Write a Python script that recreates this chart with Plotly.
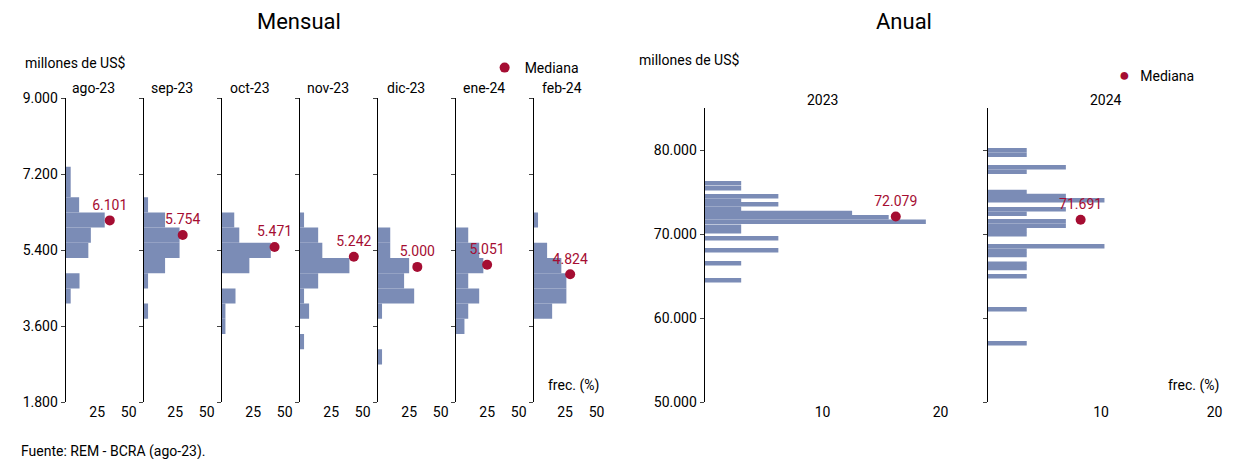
import plotly.graph_objects as go

# monthly histograms: bin centres (millones de US$) and frequency (%)
months = ['ago-23', 'sep-23', 'oct-23', 'nov-23', 'dic-23', 'ene-24', 'feb-24']
m_bins = [7190, 6830, 6470, 6110, 5750, 5390, 5030, 4670, 4310, 3950, 3590, 3230, 2870]
m_freq = [
    [4, 4, 10.7, 31, 20, 18, 0, 11, 4, 0, 0, 0, 0],
    [0, 0, 3.5, 17, 28.5, 28.5, 17, 3.5, 0, 3.5, 0, 0, 0],
    [0, 0, 0, 10, 14, 39, 22, 0, 11, 3, 3, 0, 0],
    [0, 0, 0, 3.5, 14.7, 18, 39.5, 14.7, 3.5, 7.5, 0, 3.5, 0],
    [0, 0, 0, 0, 10, 10, 25, 21, 29, 3.5, 0, 0, 3.5],
    [0, 0, 0, 0, 10, 18.7, 22, 10, 18.7, 10, 7, 0, 0],
    [0, 0, 0, 3.5, 0, 10.7, 22, 26, 26, 14.7, 0, 0, 0],
]
m_median = [6101, 5754, 5471, 5242, 5000, 5051, 4824]
m_median_x = [35, 31, 42, 43, 31.5, 25, 29]

# annual histograms
years = ['2023', '2024']
a23_bins = [76032, 75437, 74484, 73968, 73532, 73016, 72500, 71984, 71468, 70873, 70317, 69484, 68056, 66508, 64484]
a23_freq = [3.1, 3.1, 6.25, 3.1, 6.25, 3.1, 12.5, 15.6, 18.75, 3.1, 3.1, 6.25, 6.25, 3.1, 3.1]
a24_bins = [79960, 79444, 77937, 77421, 75000, 74524, 74008, 72937, 72421, 71508, 70992, 70476, 69960,
            68532, 68016, 67500, 66468, 65952, 64960, 61032, 56984]
a24_freq = [3.45, 3.45, 6.9, 3.45, 3.45, 6.9, 10.3, 6.9, 3.45, 6.9, 6.9, 3.45, 3.45,
            10.3, 3.45, 3.45, 3.45, 3.45, 3.45, 3.45, 3.45]
a_median = [72079, 71691]
a_median_x = [16.2, 8.2]

BAR = '#7b8cb6'
RED = '#a50d32'
W = 1233.0
H = 459.0
OFF = 8  # page body margin
ML, MR, MT, MB = 10, 6, 30, 25
PW = W - ML - MR
PH = H - MT - MB


def px(x):
    x = (x - 7.4) / 0.9935
    return (x - ML) / PW


def py(y):
    return 1 - (y - OFF - MT) / PH


def fmt(v):
    return f'{v:,}'.replace(',', '.')


fig = go.Figure()
layout = {}
axis_px = [65, 143, 221, 299, 377, 455, 533]
for i, m in enumerate(months):
    n = '' if i == 0 else str(i + 1)
    fig.add_trace(go.Bar(y=m_bins, x=m_freq[i], orientation='h', width=360, marker_color=BAR,
                         marker_line_width=0, xaxis='x' + n, yaxis='y' + n, showlegend=False))
    fig.add_trace(go.Scatter(x=[m_median_x[i]], y=[m_median[i]], mode='markers+text',
                             text=[fmt(m_median[i])], textposition='top center', cliponaxis=False,
                             textfont=dict(color=RED, size=14), marker=dict(color=RED, size=10),
                             name='Mediana', showlegend=(i == 0), xaxis='x' + n, yaxis='y' + n))
    x0 = axis_px[i]
    layout['xaxis' + n] = dict(domain=[px(x0), px(x0 + 63)], range=[0, 50], tickvals=[25, 50],
                               anchor='y' + n, showgrid=False, zeroline=False, showline=False)
    layout['yaxis' + n] = dict(domain=[py(402), py(98)], range=[1800, 9000], anchor='x' + n,
                               tickvals=[1800, 3600, 5400, 7200, 9000], showgrid=False,
                               zeroline=False, showline=True, linecolor='black', ticks='outside',
                               ticklen=4, showticklabels=(i == 0), tickformat=',.0f')
    fig.add_annotation(x=px(x0 + 28), y=py(88), xref='paper', yref='paper', text=m,
                       showarrow=False, xanchor='center', yanchor='middle', font=dict(size=14))

a_bins = [a23_bins, a24_bins]
a_freq = [a23_freq, a24_freq]
a_px = [704, 987]
for j, yr in enumerate(years):
    n = str(8 + j)
    fig.add_trace(go.Bar(y=a_bins[j], x=a_freq[j], orientation='h', width=540, marker_color=BAR,
                         marker_line_width=0, xaxis='x' + n, yaxis='y' + n, showlegend=False))
    fig.add_trace(go.Scatter(x=[a_median_x[j]], y=[a_median[j]], mode='markers+text',
                             text=[fmt(a_median[j])], textposition='top center', cliponaxis=False,
                             textfont=dict(color=RED, size=14), marker=dict(color=RED, size=10),
                             name='Mediana', showlegend=False, xaxis='x' + n, yaxis='y' + n))
    x0 = a_px[j]
    xr = [0, 20] if j == 0 else [0, 20.8]
    layout['xaxis' + n] = dict(domain=[px(x0), min(1, px(x0 + 236))], range=xr, tickvals=[10, 20],
                               anchor='y' + n, showgrid=False, zeroline=False, showline=False)
    layout['yaxis' + n] = dict(domain=[py(402), py(108)], range=[50000, 85000], anchor='x' + n,
                               tickvals=[50000, 60000, 70000, 80000], showgrid=False,
                               zeroline=False, showline=True, linecolor='black', ticks='outside',
                               ticklen=4, showticklabels=(j == 0), tickformat=',.0f')
    fig.add_annotation(x=px(x0 + 118), y=py(100), xref='paper', yref='paper', text=yr,
                       showarrow=False, xanchor='center', yanchor='middle', font=dict(size=14))

texts = [
    (298, 22, 'Mensual', 22, 'center'),
    (903, 22, 'Anual', 22, 'center'),
    (22, 63, 'millones de US$', 14, 'left'),
    (636, 60, 'millones de US$', 14, 'left'),
    (545, 385, 'frec. (%)', 14, 'left'),
    (1165, 385, 'frec. (%)', 14, 'left'),
    (18, 451, 'Fuente: REM - BCRA (ago-23).', 14, 'left'),
    (1116, 75, '<span style="color:#a50d32;font-size:18px">●</span>   Mediana', 14, 'left'),
]
for x, y, t, s, a in texts:
    fig.add_annotation(x=px(x), y=py(y), xref='paper', yref='paper', text=t, showarrow=False,
                       xanchor=a, yanchor='middle', font=dict(size=s))

fig.update_layout(**layout)
fig.update_layout(width=1233, height=459, margin=dict(l=ML, r=MR, t=MT, b=MB), barmode='overlay',
                  plot_bgcolor='white', paper_bgcolor='white', separators=',.',
                  font=dict(family='Roboto', size=14, color='black'),
                  legend=dict(x=px(484), y=py(52), xanchor='left', yanchor='top',
                              bgcolor='rgba(0,0,0,0)', font=dict(size=14)))
fig.write_html('out.html')
